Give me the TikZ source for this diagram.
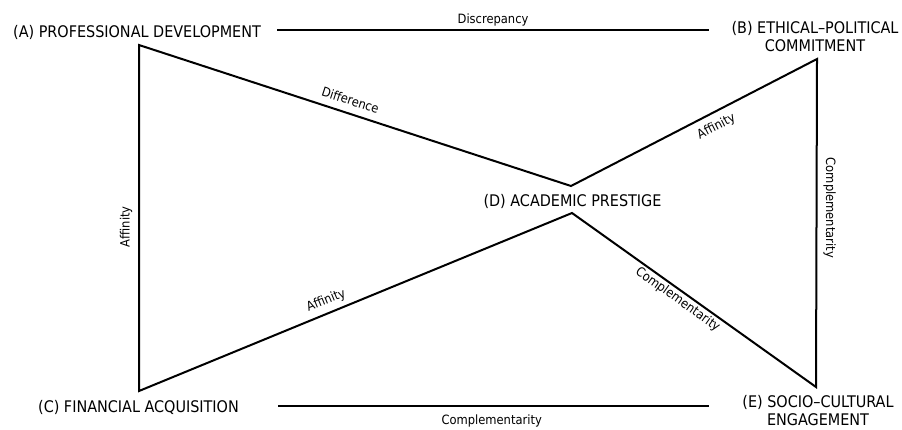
\documentclass[tikz,border=0pt]{standalone}
\usepackage{fontspec}
\setmainfont{DejaVu Sans Condensed}
\usetikzlibrary{calc}
\begin{document}
\begin{tikzpicture}[x=0.75pt,y=-0.75pt,
  edge/.style={line width=1.5pt, line join=miter},
  head/.style={font=\fontsize{12}{13.6}\selectfont, inner sep=0pt, align=center},
  lab/.style={font=\fontsize{9.6}{11}\selectfont, inner sep=0pt, anchor=center},
  slab/.style={lab, sloped}]
\useasboundingbox (0,0) rectangle (902,429);
% vertices
\coordinate (pA) at (139,45);
\coordinate (pD1) at (571,186);
\coordinate (pB) at (817,59);
\coordinate (pE) at (816,387);
\coordinate (pD2) at (572,213);
\coordinate (pC) at (139,391);
% horizontal line ends
\coordinate (tl) at (277,30);
\coordinate (tr) at (709,30);
\coordinate (bl) at (278,406);
\coordinate (br) at (709,406);
% titles
\node[head, anchor=base] (tA) at (137,37) {(A) PROFESSIONAL DEVELOPMENT};
\node[head] (tB) at (815,36.2) {(B) ETHICAL–POLITICAL\\COMMITMENT};
\node[head, anchor=base] (tD) at (572.5,206.7) {(D) ACADEMIC PRESTIGE};
\node[head, anchor=base] (tC) at (138.5,412.7) {(C) FINANCIAL ACQUISITION};
\node[head] (tE) at (818,410.8) {(E) SOCIO–CULTURAL\\ENGAGEMENT};
% bow-tie loop
\draw[edge] (pA) -- node[slab, pos=0.48, yshift=9.9pt] (lDiff) {Difference}
  (pD1) -- node[slab, pos=0.565, yshift=-10.5pt] (lAffDB) {Affinity}
  (pB) -- (pE) -- node[slab, pos=0.545, yshift=-6.9pt] (lCompDE) {Complementarity}
  (pD2) -- node[slab, pos=0.557, yshift=9.1pt] (lAffCD) {Affinity}
  (pC) -- cycle;
\node[lab, rotate=-90] (lCompBE) at ($(pB)!0.454!(pE)+(13,0)$) {Complementarity};
\node[lab, rotate=90] (lAffCA) at ($(pC)!0.475!(pA)+(-13,0)$) {Affinity};
% horizontal lines
\draw[edge] (tl) -- (tr);
\draw[edge] (bl) -- (br);
\node[lab, anchor=base] (lDisc) at ($(tl)!0.5!(tr)+(0,-6.7)$) {Discrepancy};
\node[lab, anchor=base] (lCompCE) at ($(bl)!0.5!(br)+(-1.8,18.3)$) {Complementarity};
\end{tikzpicture}
\end{document}
